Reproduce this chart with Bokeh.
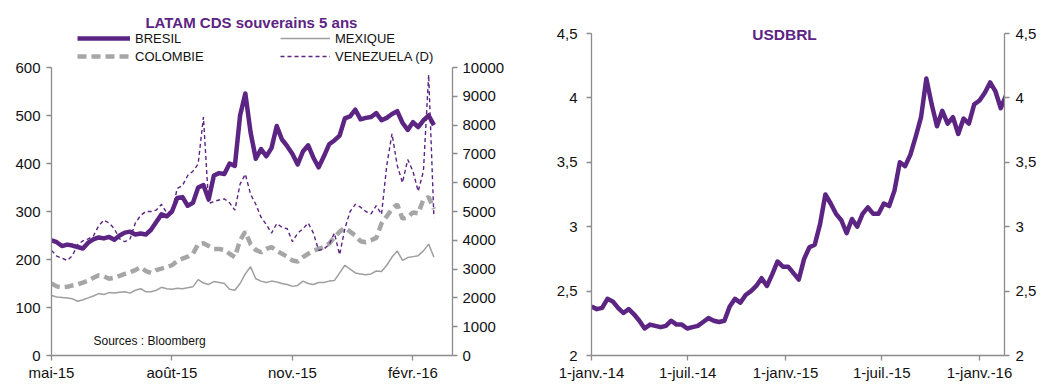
import pandas as pd
from bokeh.plotting import figure
from bokeh.models import Range1d, LinearAxis, FixedTicker, Label, Legend, LegendItem
from bokeh.layouts import row
from bokeh.embed import file_html
from bokeh.resources import INLINE

PURPLE = "#5c2483"
GREY_THICK = "#a6a6a6"
GREY_THIN = "#9f9f9f"
AXIS = "#8c8c8c"
FONT = "Liberation Sans"

# ---------------- data: LATAM CDS (every 4 days from 1 May 2015) ----------------
cds_start = "2015-05-01"
bresil = [240, 236, 228, 231, 229, 226, 223, 235, 242, 246,
          244, 247, 241, 250, 256, 258, 252, 254, 252, 262,
          278, 294, 290, 300, 328, 330, 312, 318, 350, 355,
          325, 375, 380, 378, 400, 395, 500, 546, 465, 410,
          430, 415, 432, 478, 450, 436, 420, 398, 425, 438,
          412, 392, 415, 440, 448, 458, 494, 498, 512, 492,
          495, 497, 505, 490, 495, 503, 509, 485, 470, 486,
          476, 490, 500, 480]
mexique = [125, 122, 121, 120, 118, 113, 116, 120, 124, 129,
           127, 131, 130, 132, 133, 130, 136, 139, 133, 133,
           136, 142, 139, 138, 140, 139, 141, 143, 158, 151,
           148, 154, 152, 150, 138, 136, 150, 170, 185, 160,
           155, 152, 155, 153, 150, 148, 144, 146, 155, 150,
           148, 152, 152, 155, 156, 172, 188, 180, 172, 170,
           168, 170, 176, 175, 188, 205, 218, 198, 204, 206,
           208, 218, 232, 205]
colombie = [150, 144, 142, 143, 146, 148, 152, 156, 162, 167,
            165, 160, 162, 166, 170, 174, 178, 184, 176, 172,
            178, 181, 184, 188, 197, 202, 206, 212, 232, 234,
            228, 222, 222, 220, 212, 205, 240, 258, 232, 220,
            215, 222, 226, 218, 212, 206, 198, 196, 205, 212,
            218, 222, 226, 233, 246, 258, 266, 258, 250, 238,
            236, 240, 245, 275, 290, 305, 315, 285, 288, 298,
            296, 325, 330, 305]
venezuela = [3650, 3450, 3380, 3300, 3470, 3850, 3980, 4050, 4150, 4500,
             4700, 4600, 4400, 4050, 3950, 4050, 4600, 4860, 5000, 5000,
             5050, 5250, 4950, 5000, 5800, 5900, 6250, 6400, 6650, 8280,
             5270, 5350, 5400, 5440, 5300, 5050, 5950, 6300, 5600, 5250,
             4800, 4550, 4250, 4580, 4450, 4400, 3950, 4250, 4400, 4600,
             4250, 3650, 3700, 3850, 4250, 3500, 4400, 5000, 5250, 5150,
             5000, 4920, 5200, 4900, 6600, 7700, 6600, 6000, 6800, 6400,
             5700, 6400, 9750, 4800]
cds_dates = pd.date_range(cds_start, periods=len(bresil), freq="4D")

cds_ticks = ["2015-05-01", "2015-08-01", "2015-11-01", "2016-02-01"]
cds_tick_labels = ["mai-15", "août-15", "nov.-15", "févr.-16"]
cds_left_ticks = [0, 100, 200, 300, 400, 500, 600]
cds_right_ticks = [0, 1000, 2000, 3000, 4000, 5000, 6000, 7000, 8000, 9000, 10000]

# ---------------- data: USDBRL (every 10 days from 1 Jan 2014) ----------------
fx_start = "2014-01-01"
usdbrl = [2.38, 2.36, 2.37, 2.44, 2.42, 2.37, 2.33, 2.36, 2.32, 2.27,
          2.21, 2.24, 2.23, 2.22, 2.23, 2.27, 2.24, 2.24, 2.21, 2.22,
          2.23, 2.26, 2.29, 2.27, 2.26, 2.27, 2.38, 2.44, 2.41, 2.47,
          2.50, 2.54, 2.60, 2.54, 2.63, 2.73, 2.69, 2.69, 2.64, 2.59,
          2.75, 2.84, 2.86, 3.02, 3.25, 3.18, 3.10, 3.05, 2.95, 3.06,
          3.00, 3.10, 3.15, 3.10, 3.10, 3.18, 3.16, 3.28, 3.50, 3.47,
          3.56, 3.70, 3.85, 4.15, 3.95, 3.78, 3.90, 3.80, 3.85, 3.72,
          3.84, 3.80, 3.95, 3.98, 4.04, 4.12, 4.05, 3.92, 4.02]
fx_dates = pd.date_range(fx_start, periods=len(usdbrl), freq="10D")

fx_ticks = ["2014-01-01", "2014-07-01", "2015-01-01", "2015-07-01", "2016-01-01"]
fx_tick_labels = ["1-janv.-14", "1-juil.-14", "1-janv.-15", "1-juil.-15", "1-janv.-16"]
fx_y_ticks = [2.0, 2.5, 3.0, 3.5, 4.0, 4.5]
fx_y_labels = ["2", "2,5", "3", "3,5", "4", "4,5"]


def ms(t):
    return int(pd.Timestamp(t).value // 10**6)


def style_axis(ax, standoff):
    ax.axis_line_color = AXIS
    ax.axis_line_width = 1.3
    ax.major_tick_line_color = AXIS
    ax.major_tick_line_width = 1.3
    ax.major_tick_in = 0
    ax.major_tick_out = 5
    ax.minor_tick_line_color = None
    ax.major_label_text_font = FONT
    ax.major_label_text_font_size = "15px"
    ax.major_label_text_color = "#111111"
    ax.major_label_standoff = standoff


FRAME_H = 351  # frame from y=4 to y=355; axes are bounded to the data area

# ---------------- left chart ----------------
x0 = ms(cds_start)
left_top = 600 * FRAME_H / 288.0
p1 = figure(frame_width=401, frame_height=FRAME_H, x_axis_type="datetime",
            x_range=Range1d(x0, x0 + 306.2 * 86400000), y_range=Range1d(0, left_top),
            output_backend="svg", toolbar_location=None,
            min_border_left=51, min_border_right=79, min_border_top=4, min_border_bottom=30)
p1.outline_line_color = None
p1.xgrid.visible = False
p1.ygrid.visible = False
p1.extra_y_ranges = {"ven": Range1d(0, left_top / 600 * 10000)}

r_b = p1.line(cds_dates, bresil, line_color=PURPLE, line_width=4.5, line_join="round")
r_m = p1.line(cds_dates, mexique, line_color=GREY_THIN, line_width=1.5)
r_c = p1.line(cds_dates, colombie, line_color=GREY_THICK, line_width=4.5, line_dash="9 5")
r_v = p1.line(cds_dates, venezuela, line_color=PURPLE, line_width=1.4, line_dash="4 3",
              y_range_name="ven")

p1.xaxis.ticker = FixedTicker(ticks=[ms(t) for t in cds_ticks])
p1.xaxis.major_label_overrides = {ms(t): l for t, l in zip(cds_ticks, cds_tick_labels)}
p1.yaxis.ticker = FixedTicker(ticks=cds_left_ticks)
p1.yaxis.bounds = (0, 600)
style_axis(p1.xaxis[0], 3)
style_axis(p1.yaxis[0], 6)
ax_r = LinearAxis(y_range_name="ven", ticker=FixedTicker(ticks=cds_right_ticks),
                  bounds=(0, 10000))
style_axis(ax_r, 5)
p1.add_layout(ax_r, "right")

leg_kw = dict(orientation="vertical", glyph_height=16, label_height=16, label_standoff=5,
              spacing=2, padding=0, margin=0, border_line_color=None,
              background_fill_alpha=0, label_text_font=FONT, label_text_font_size="13px",
              label_text_color="#111111")
leg1 = Legend(items=[LegendItem(label="BRESIL", renderers=[r_b]),
                     LegendItem(label="COLOMBIE", renderers=[r_c])],
              location=(26, 291), glyph_width=53, **leg_kw)
leg2 = Legend(items=[LegendItem(label="MEXIQUE", renderers=[r_m]),
                     LegendItem(label="VENEZUELA (D)", renderers=[r_v])],
              location=(229, 291), glyph_width=50, **leg_kw)
p1.add_layout(leg1)
p1.add_layout(leg2)

p1.add_layout(Label(x=202, y=333, x_units="screen", y_units="screen",
                    text="LATAM  CDS souverains 5 ans", text_align="center",
                    text_baseline="middle", text_font=FONT, text_font_style="bold",
                    text_font_size="15px", text_color=PURPLE))
p1.add_layout(Label(x=42, y=15, x_units="screen", y_units="screen",
                    text="Sources : Bloomberg", text_align="left", text_baseline="middle",
                    text_font=FONT, text_font_size="12px", text_color="#111111"))

# ---------------- right chart ----------------
f0 = ms(fx_start)
right_top = 2 + 2.5 * FRAME_H / 322.0
p2 = figure(frame_width=413, frame_height=FRAME_H, x_axis_type="datetime",
            x_range=Range1d(f0, f0 + 777 * 86400000), y_range=Range1d(2, right_top),
            output_backend="svg", toolbar_location=None,
            min_border_left=60, min_border_right=46, min_border_top=4, min_border_bottom=30)
p2.outline_line_color = None
p2.xgrid.visible = False
p2.ygrid.visible = False

p2.line(fx_dates, usdbrl, line_color=PURPLE, line_width=4.5, line_join="round")

p2.xaxis.ticker = FixedTicker(ticks=[ms(t) for t in fx_ticks])
p2.xaxis.major_label_overrides = {ms(t): l for t, l in zip(fx_ticks, fx_tick_labels)}
fx_over = {v: l for v, l in zip(fx_y_ticks, fx_y_labels)}
p2.yaxis.ticker = FixedTicker(ticks=fx_y_ticks)
p2.yaxis.major_label_overrides = fx_over
p2.yaxis.bounds = (2, 4.5)
style_axis(p2.xaxis[0], 3)
style_axis(p2.yaxis[0], 9)
ax_r2 = LinearAxis(ticker=FixedTicker(ticks=fx_y_ticks), bounds=(2, 4.5))
ax_r2.major_label_overrides = fx_over
style_axis(ax_r2, 6)
p2.add_layout(ax_r2, "right")

p2.add_layout(Label(x=193, y=321, x_units="screen", y_units="screen", text="USDBRL",
                    text_align="center", text_baseline="middle", text_font=FONT,
                    text_font_style="bold", text_font_size="15.5px", text_color=PURPLE))

layout = row(p1, p2)
open("out.html", "w").write(file_html(layout, INLINE))
